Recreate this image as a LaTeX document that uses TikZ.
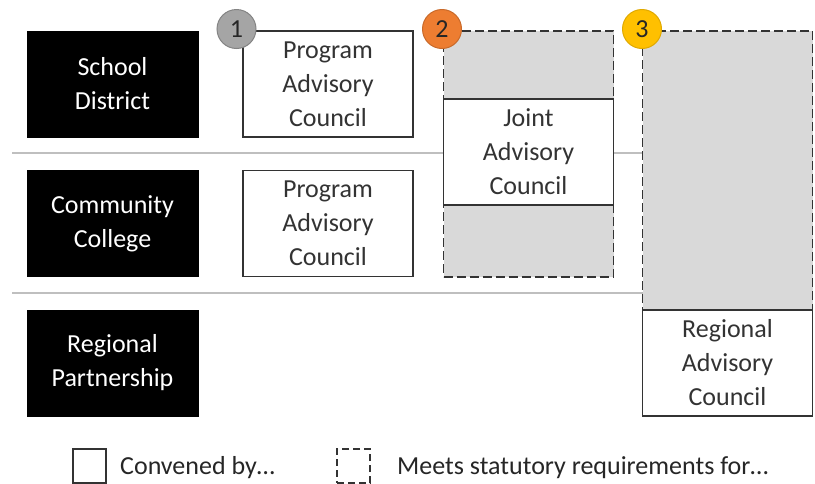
\documentclass[tikz,border=0pt]{standalone}
\usepackage{fontspec}
\setmainfont{Carlito}
\usepackage{tikz}
\definecolor{sepgray}{HTML}{BFBFBF}
\definecolor{shade}{HTML}{D9D9D9}
\definecolor{edge}{HTML}{333333}
\definecolor{badgeone}{HTML}{A5A5A5}
\definecolor{badgetwo}{HTML}{ED7D31}
\definecolor{badgethree}{HTML}{FFC000}
\tikzstyle{entity} =
[rectangle, minimum width = 171pt, minimum height = 106pt, text centered,
text width = 160pt, draw=black, fill=black, text=white]
\tikzstyle{council} =
[rectangle, minimum width = 170pt, minimum height = 106pt, text centered,
text width = 160pt, draw=edge, fill=white, line width=1.6pt, text=black!80]
\tikzstyle{statutory} =
[rectangle, minimum width = 170pt, draw=edge, fill=shade, line width=1.6pt,
dash pattern=on 9pt off 4pt]
\tikzstyle{badge} =
[circle, minimum size = 39pt, inner sep=0pt, line width=1pt, text=black!85]
\tikzstyle{keybox} =
[rectangle, minimum width = 33pt, minimum height = 34pt, draw=edge,
fill=white, line width=1.1pt]
\tikzstyle{keytext} = [anchor=base west, inner sep=0pt, text=black!85]
\tikzstyle{separator} = [draw=sepgray, line width=1.5pt]

\begin{document}
\begin{tikzpicture}[x=1pt, y=-1pt, node distance = 139.5pt,
  font=\fontsize{26}{34}\selectfont]
  \useasboundingbox (0,0) rectangle (815,483);
  % row separators
  \path [separator] (12,153) -- (643,153);
  \path [separator] (12,293) -- (643,293);
  % row headings
  \node [entity] at (112.5,84) (district) {School\\District};
  \node [entity, below of=district] (college) {Community\\College};
  \node [entity, below of=college] (partner) {Regional\\Partnership};
  % statutory areas
  \node [statutory, minimum height = 246pt] at (528.5,154) (meettwo) {};
  \node [statutory, minimum height = 385pt] at (727.5,223.5) (meetthree) {};
  % councils
  \node [council, right of=district, node distance=215.5pt] (progone)
   {Program\\Advisory\\Council};
  \node [council, right of=college, node distance=215.5pt] (progtwo)
   {Program\\Advisory\\Council};
  \node [council] at (528.5,152) (joint) {Joint\\Advisory\\Council};
  \node [council, right of=partner, node distance=615pt] (regional)
   {Regional\\Advisory\\Council};
  % numbers
  \node [badge, fill=badgeone, draw=badgeone!80!black] at (236.5,29) (one) {1};
  \node [badge, fill=badgetwo, draw=badgetwo!85!black] at (442,29) (two) {2};
  \node [badge, fill=badgethree, draw=badgethree!88!black] at (642,29)
   (three) {3};
  % legend
  \node [keybox] at (89.5,466) (keysolid) {};
  \node [keytext] at (120,474) (convened) {Convened by…};
  \node [keybox, dash pattern=on 7pt off 4pt] at (353.5,466) (keydashed) {};
  \node [keytext] at (397,474) (meets) {Meets statutory requirements for…};
\end{tikzpicture}
\end{document}
